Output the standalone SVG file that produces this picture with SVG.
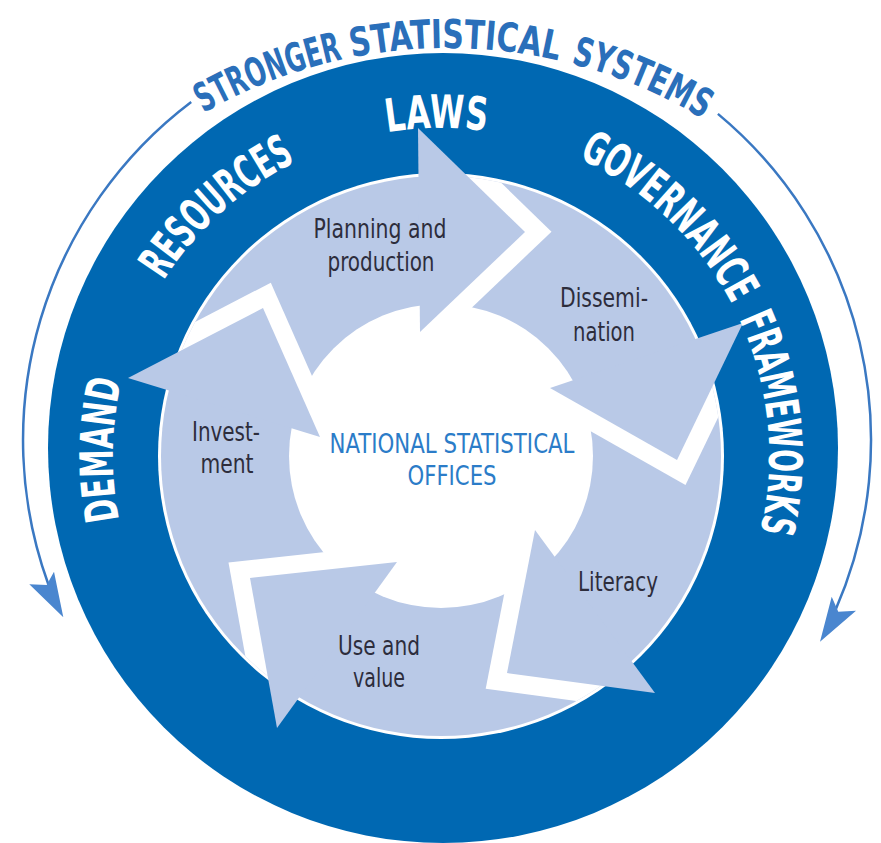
<svg xmlns="http://www.w3.org/2000/svg" width="881" height="843" viewBox="0 0 881 843">
<style>
.ring{fill:#ffffff;font-family:"Liberation Sans Narrow","DejaVu Sans Condensed","DejaVu Sans",sans-serif;font-stretch:condensed;font-weight:bold;font-size:46px;}
.title{fill:#2a6fba;font-family:"Liberation Sans Narrow","DejaVu Sans Condensed","DejaVu Sans",sans-serif;font-stretch:condensed;font-weight:bold;font-size:40px;}
.lbl{fill:#2d2d3c;font-family:"Liberation Sans Narrow","DejaVu Sans Condensed","DejaVu Sans",sans-serif;font-stretch:condensed;font-size:26px;text-anchor:middle;}
.nso{fill:#2b7cc8;font-family:"Liberation Sans Narrow","DejaVu Sans Condensed","DejaVu Sans",sans-serif;font-stretch:condensed;font-size:27px;text-anchor:middle;}
.head{fill:#b9c9e7;}
.gap{fill:#ffffff;}
.thin{fill:none;stroke:#3a78c2;stroke-width:2.5;}
.tip{fill:#4a86cf;}
</style>
<defs>
<clipPath id="ringClip"><circle cx="441" cy="456" r="280"/></clipPath>
<path id="ringPath" d="M 441 784 A 328 328 0 1 1 441 128 A 328 328 0 1 1 441 784"/>
<path id="titlePath" d="M 448 1032 A 492 492 0 1 1 448 48 A 492 492 0 1 1 448 1032"/>
</defs>
<g id="outer-ring">
<circle cx="443" cy="448" r="395" fill="#0068b2"/>
<circle cx="441" cy="456" r="283" fill="#ffffff"/>
<circle cx="441" cy="456" r="280" fill="#b9c9e7"/>
<circle cx="441" cy="456" r="152" fill="#ffffff"/>
</g>
<g id="connectors">
<path class="thin" d="M 191.2 101.9 A 424 424 0 0 0 48.4 584.5"/>
<polygon class="tip" points="63.3,617.3 29.3,584.3 46.7,585 54,571.7"/>
<path class="thin" d="M 717.9 113.9 A 424 424 0 0 1 835.3 610.4"/>
<polygon class="tip" points="820,641.7 856,610.7 838.3,611.7 831.7,596.7"/>
</g>
<g id="gaps" clip-path="url(#ringClip)">
<polygon class="gap" points="444.5,127.7 551.5,231.7 446.5,331.7"/>
<polygon class="gap" points="751.5,348.1 685.5,485.1 558.5,413.1"/>
<polygon class="gap" points="633.7,708.7 485.7,688.7 513.7,545.7"/>
<polygon class="gap" points="255.5,712.5 228.5,562.5 375.5,546.5"/>
<polygon class="gap" points="135.8,352.7 270.8,282.7 327.8,411.7"/>
</g>
<g id="planning">
<polygon class="head" points="418,128 525,232 420,332"/>
<text class="lbl" x="380" y="238" textLength="133" lengthAdjust="spacingAndGlyphs">Planning and</text>
<text class="lbl" x="381" y="271" textLength="107" lengthAdjust="spacingAndGlyphs">production</text>
</g>
<g id="dissemination">
<polygon class="head" points="743,323 677,460 550,388"/>
<text class="lbl" x="604" y="307" textLength="88" lengthAdjust="spacingAndGlyphs">Dissemi-</text>
<text class="lbl" x="604" y="341" textLength="62" lengthAdjust="spacingAndGlyphs">nation</text>
</g>
<g id="literacy">
<polygon class="head" points="655,693 507,673 535,530"/>
<text class="lbl" x="618" y="591" textLength="80" lengthAdjust="spacingAndGlyphs">Literacy</text>
</g>
<g id="use-and-value">
<polygon class="head" points="277,728 250,578 397,562"/>
<text class="lbl" x="379" y="655" textLength="82" lengthAdjust="spacingAndGlyphs">Use and</text>
<text class="lbl" x="379" y="687" textLength="52" lengthAdjust="spacingAndGlyphs">value</text>
</g>
<g id="investment">
<polygon class="head" points="128,378 263,308 320,437"/>
<text class="lbl" x="226" y="441" textLength="68" lengthAdjust="spacingAndGlyphs">Invest-</text>
<text class="lbl" x="227" y="473" textLength="53" lengthAdjust="spacingAndGlyphs">ment</text>
</g>
<g id="nso">
<text class="nso" x="452" y="453" textLength="245" lengthAdjust="spacingAndGlyphs">NATIONAL STATISTICAL</text>
<text class="nso" x="452" y="485" textLength="89" lengthAdjust="spacingAndGlyphs">OFFICES</text>
</g>
<g id="ring-labels">
<text class="ring"><textPath href="#ringPath" startOffset="451" textLength="140" lengthAdjust="spacingAndGlyphs">DEMAND</textPath></text>
<text class="ring"><textPath href="#ringPath" startOffset="700" textLength="180" lengthAdjust="spacingAndGlyphs">RESOURCES</textPath></text>
<text class="ring"><textPath href="#ringPath" startOffset="976" textLength="100" lengthAdjust="spacingAndGlyphs">LAWS</textPath></text>
<text class="ring"><textPath href="#ringPath" startOffset="1172" textLength="216" lengthAdjust="spacingAndGlyphs">GOVERNANCE</textPath></text>
<text class="ring"><textPath href="#ringPath" startOffset="1404" textLength="218" lengthAdjust="spacingAndGlyphs">FRAMEWORKS</textPath></text>
</g>
<g id="title">
<text class="title"><textPath href="#titlePath" startOffset="1290" textLength="150" lengthAdjust="spacingAndGlyphs">STRONGER</textPath></text>
<text class="title"><textPath href="#titlePath" startOffset="1449" textLength="208" lengthAdjust="spacingAndGlyphs">STATISTICAL</textPath></text>
<text class="title"><textPath href="#titlePath" startOffset="1670" textLength="144" lengthAdjust="spacingAndGlyphs">SYSTEMS</textPath></text>
</g>
</svg>
